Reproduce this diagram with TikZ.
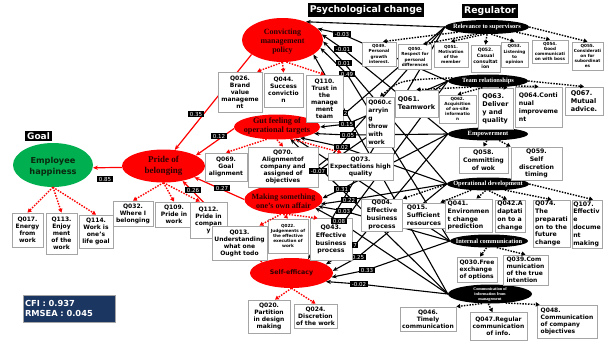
\documentclass[tikz,border=0pt]{standalone}
\usepackage{fontspec}
\setmainfont{DejaVu Sans}
\newfontfamily\serifbf{Liberation Serif}
\usetikzlibrary{arrows.meta,shapes.geometric,calc}
\pgfdeclarelayer{lines}
\pgfdeclarelayer{under}
\pgfdeclarelayer{top}
\pgfsetlayers{lines,under,main,top}
\definecolor{boxgray}{RGB}{165,165,165}
\definecolor{myred}{RGB}{255,0,0}
\definecolor{mygreen}{RGB}{0,176,80}
\definecolor{navyb}{RGB}{28,54,98}
\definecolor{dkred}{RGB}{45,0,0}
\definecolor{dkgreen}{RGB}{10,40,15}
\begin{document}
\begin{tikzpicture}[x=1pt,y=-1pt,
  wh/.style 2 args={minimum width=#1pt,minimum height=#2pt},
  qbox/.style={draw=boxgray,line width=0.8pt,fill=white,align=center,inner sep=0.5pt,font=\fontsize{6}{7}\selectfont\bfseries},
  qleft/.style={qbox,align=left},
  qmid/.style={qbox,font=\fontsize{6.2}{7.8}\selectfont\bfseries},
  qmidl/.style={qmid,align=left},
  qtiny/.style={qbox,font=\fontsize{4.2}{5.2}\selectfont\bfseries},
  psyell/.style={ellipse,fill=myred,inner sep=0pt},
  psytxt/.style={align=center,text=dkred,inner sep=0pt,font=\fontsize{8}{9.3}\selectfont\serifbf\bfseries},
  regell/.style={ellipse,fill=black,inner sep=0pt},
  regtxt/.style={align=center,text=white,inner sep=0pt,font=\fontsize{6.4}{7}\selectfont\serifbf\bfseries},
  coef/.style={fill=black,text=white,inner xsep=2.3pt,inner ysep=1.3pt,font=\fontsize{5.5}{6}\selectfont},
  hdr/.style={fill=black,text=white,inner sep=2pt,font=\fontsize{9.3}{11}\selectfont\bfseries},
  blkarr/.style={black,line width=1.1pt,-{Stealth[length=5pt,width=4.2pt]}},
  redarr/.style={myred,line width=1.2pt,-{Stealth[length=5pt,width=4.2pt]}},
  reddot/.style={myred,line width=1.4pt,dash pattern=on 1.5pt off 1.3pt,-{Triangle[length=3.8pt,width=4.2pt]}},
  blkdot/.style={black,line width=1.4pt,dash pattern=on 1.5pt off 1.3pt,-{Triangle[length=3.8pt,width=4.2pt]}},
]
\useasboundingbox (0,0) rectangle (608,351);

% ---------- headers ----------
\node[hdr] (hpsy) at (366,10) {Psychological change};
\node[hdr] (hreg) at (490,11) {Regulator};
\node[hdr,font=\fontsize{9}{11}\selectfont\bfseries] (hgoal) at (38.5,136) {Goal};

% ---------- psychological ellipses ----------
\node[psyell,fill=mygreen,wh={80}{44}] (happy) at (53,165) {};
\node[align=center,text=dkgreen,inner sep=0pt,font=\fontsize{8.2}{11}\selectfont\bfseries] (happyt) at (53,167) {Employee\\happiness};
\node[psyell,wh={83}{33}] (pride) at (163.5,166) {};
\node[psytxt,font=\fontsize{9}{10.5}\selectfont\serifbf\bfseries] (pridet) at (163.5,166) {Pride of\\belonging};
\node[psyell,wh={81}{44}] (conv) at (282.5,40) {};
\node[psytxt] (convt) at (282.5,41.5) {Convicting\\management\\policy};
\node[psyell,wh={86}{25}] (gut) at (277,127) {};
\node[psytxt,font=\fontsize{8.2}{9.5}\selectfont\serifbf\bfseries] (gutt) at (277,126) {Gut feeling of\\operational targets};
\node[psyell,wh={78}{29}] (making) at (283.5,199.5) {};
\node[psytxt,font=\fontsize{8}{9}\selectfont\serifbf\bfseries] (makingt) at (283.5,201.5) {Making something\\one’s own affair};
\node[psyell,wh={83}{30}] (self) at (291.5,273) {};
\node[align=center,text=dkred,inner sep=0pt,font=\fontsize{6.3}{7}\selectfont\bfseries] (selft) at (291.5,273) {Self-efficacy};

% ---------- regulator ellipses ----------
\node[regell,wh={84}{14}] (rel) at (487,27) {};
\node[regtxt] (relt) at (487,27) {Relevance to supervisors};
\node[regell,wh={80}{13}] (team) at (488,81) {};
\node[regtxt] (teamt) at (488,81) {Team relationships};
\node[regell,wh={80}{13}] (emp) at (488,134) {};
\node[regtxt] (empt) at (488,134) {Empowerment};
\node[regell,wh={82}{13}] (oper) at (488,184) {};
\node[regtxt] (opert) at (488,184) {Operational development};
\node[regell,wh={78}{13}] (intc) at (489,241) {};
\node[regtxt] (intct) at (489,241) {Internal communication};
\node[regell,wh={84}{19}] (comm) at (490,294) {};
\node[regtxt,font=\fontsize{4.2}{5}\selectfont\serifbf\bfseries] (commt) at (490,294) {Communication of\\information from\\management};

% ---------- item boxes ----------
\node[qbox,wh={31}{34}] (q017) at (27.5,230) {Q017.\\Energy\\from\\work};
\node[qbox,wh={31}{41}] (q113) at (61.5,233.5) {Q113.\\Enjoy\\ment\\of the\\work};
\node[qbox,wh={34}{33}] (q114) at (96,231.5) {Q114.\\Work is\\one’s\\life goal};
\node[qbox,wh={40}{25}] (q032) at (133,213.5) {Q032.\\Where I\\belonging};
\node[qbox,wh={38}{25}] (q109) at (174,214.5) {Q109.\\Pride in\\work};
\node[qbox,wh={37}{36}] (q112) at (208.5,220) {Q112.\\Pride in\\compan\\y};
\node[qbox,wh={44}{40}] (q026) at (240,92) {Q026.\\Brand\\value\\manageme\\nt};
\node[qbox,wh={39}{34}] (q044) at (283.5,90) {Q044.\\Success\\convictio\\n};
\node[qbox,wh={37}{47}] (q110) at (324.5,98.5) {Q110.\\Trust in\\the\\manage\\ment\\team};
\node[qbox,wh={42}{28}] (q069) at (226,167) {Q069.\\Goal\\alignment};
\node[qbox,wh={70}{40}] (q070) at (283,167) {Q070.\\Alignmentof\\company and\\assigned of\\objectives};
\node[qbox,wh={65}{27}] (q073) at (360.5,166.5) {Q073.\\Expectations high\\quality};
\node[qbox,wh={55}{34}] (q013) at (239.5,243) {Q013.\\Understanding\\what one\\Ought todo};
\node[qtiny,wh={40}{34}] (q022) at (288,236) {Q022.\\Judgements of\\the effective\\execution of\\work};
\node[qmid,wh={42}{42}] (q043) at (331,239.5) {Q043.\\Effective\\business\\process};
\node[qmid,wh={41}{32}] (q004) at (382,215) {Q004.\\Effective\\business\\process};
\node[qbox,wh={42}{33}] (q020) at (269,316.5) {Q020.\\Partition\\in design\\making};
\node[qbox,wh={43}{24}] (q024) at (315.5,316) {Q024.\\Discretion\\of the work};

\node[qtiny,wh={34}{24}] (q049) at (379,54) {Q049.\\Personal\\growth\\interest.};
\node[qtiny,wh={33}{25}] (q050) at (415,57) {Q050.\\Respect for\\personal\\differences};
\node[qtiny,wh={34}{25}] (q051) at (451,54.5) {Q051.\\Motivation\\of the\\member};
\node[qtiny,wh={29}{27},font=\fontsize{4.6}{5.7}\selectfont\bfseries] (q052) at (485.5,58.5) {Q052.\\Casual\\consultat\\ion};
\node[qtiny,wh={27}{25}] (q053) at (514.5,54.5) {Q053.\\Listening\\to\\opinion};
\node[qtiny,wh={36}{23}] (q054) at (550,51.5) {Q054.\\Good\\communicati\\on with boss};
\node[qtiny,wh={31}{28}] (q055) at (587.5,56) {Q055.\\Considerati\\on for\\subordinat\\es};

\node[qmidl,wh={28}{50},font=\fontsize{6}{8}\selectfont\bfseries] (q060) at (380,122) {Q060.c\\arryin\\g\\throw\\with\\work};
\node[qmidl,wh={43}{27},font=\fontsize{6.5}{8}\selectfont\bfseries] (q061) at (416.5,103.5) {Q061.\\Teamwork};
\node[qtiny,wh={37}{28}] (q062) at (457.5,109) {Q062.\\Acquisition\\of on-site\\informatio\\n};
\node[qmidl,wh={35}{41},font=\fontsize{6.5}{8}\selectfont\bfseries] (q063) at (495.5,108.5) {Q063.\\Deliver\\y and\\quality};
\node[qmidl,wh={47}{40}] (q064) at (538.5,107) {Q064.Conti\\nual\\improveme\\nt};
\node[qmidl,wh={38}{28},font=\fontsize{6.5}{8}\selectfont\bfseries] (q067) at (584,101) {Q067.\\Mutual\\advice.};
\node[qmid,wh={49}{26}] (q058) at (483.5,160) {Q058.\\Committing\\of wok};
\node[qmid,wh={51}{33}] (q059) at (536.5,163.5) {Q059.\\Self\\discretion\\timing};
\node[qmidl,wh={44}{25}] (q015) at (424,215.5) {Q015.\\Sufficient\\resources};
\node[qmidl,wh={47}{33}] (q041) at (468.5,215.5) {Q041.\\Environmen\\t change\\prediction};
\node[qmidl,wh={30}{32}] (q042) at (510,216) {Q042.A\\daptati\\on to a\\change};
\node[qmidl,wh={37}{47}] (q074) at (551.5,223.5) {Q074.\\The\\preparati\\on to the\\future\\change};
\node[qmidl,wh={30}{48}] (q107) at (587,224) {Q107.\\Effectiv\\e\\docume\\nt\\making};
\node[qleft,wh={40}{25}] (q030) at (477,269.5) {Q030.Free\\exchange\\of options};
\node[qleft,wh={45}{30}] (q039) at (525.5,270) {Q039.Com\\munication\\of the true\\intention};
\node[qbox,wh={56}{24}] (q046) at (428,319) {Q046.\\Timely\\communication};
\node[qbox,wh={57}{28}] (q047) at (498.5,326.5) {Q047.Regular\\communication\\of info.};
\node[qleft,wh={60}{33}] (q048) at (567,321.5) {Q048.\\Communication\\of company\\objectives};

% ---------- fit indices ----------
\node[draw=boxgray,line width=0.6pt,fill=navyb,text=white,align=left,text width=88pt,minimum height=27pt,inner sep=2pt,font=\fontsize{8.3}{10.5}\selectfont\bfseries] (fitbox) at (69,308.5) {CFI : 0.937\\RMSEA : 0.045};

% ---------- coefficient labels ----------
\begin{pgfonlayer}{under}
\node[coef] (c4) at (347,74) {0.49};
\node[coef] (c15) at (358,257) {0.25};
\end{pgfonlayer}
\begin{pgfonlayer}{top}
\node[coef,inner xsep=1.2pt] (c5) at (345.5,113) {2};
\node[coef,inner xsep=1.2pt] (c14) at (355,245) {7};
\node[coef] (c1) at (342,34) {-0.03};
\node[coef] (c2) at (343,49) {-0.01};
\node[coef] (c3) at (344,63) {0.01};
\node[coef] (c6) at (347,124) {0.15};
\node[coef] (c7) at (348,135) {0.05};
\node[coef] (c8) at (342,147) {0.02};
\node[coef] (c9) at (318,171) {-0.07};
\node[coef] (c10) at (342,189) {0.31};
\node[coef] (c11) at (349,200) {0.22};
\node[coef] (c12) at (344,211) {0.03};
\node[coef] (c13) at (339,221) {0.08};
\node[coef] (c16) at (367,270) {0.33};
\node[coef] (c17) at (359,284) {-0.02};
\node[coef] (p1) at (196,114) {0.35};
\node[coef] (p2) at (219,136) {0.12};
\node[coef] (p3) at (222,188) {0.27};
\node[coef] (p4) at (193,190) {0.26};
\node[coef] (p5) at (105,179) {0.85};
\end{pgfonlayer}
\coordinate (hidc) at (331,156);

% ---------- structural paths ----------
\begin{pgfonlayer}{lines}
% to Convicting
\draw[blkarr] (rel.west) -- (conv.38);
\draw[blkarr] (team.west) -- (c1.center) -- (conv.18);
\draw[blkarr] (emp.west) -- (c2.center) -- (conv.8);
\draw[blkarr] (oper.west) -- (c3.center) -- (conv.-2);
\draw[blkarr] (intc.west) -- (c4.center) -- (conv.-12);
\draw[blkarr] (comm.west) -- (conv.-25);
% to Gut feeling
\draw[blkarr] (rel.west) -- (c5.center) -- (gut.8);
\draw[blkarr] (team.west) -- (c6.center) -- (gut.0);
\draw[blkarr] (emp.west) -- (c7.center) -- (gut.-10);
\draw[blkarr] (oper.west) -- (c8.center) -- (gut.-25);
\draw[blkarr] (intc.west) -- (gut.-32);
\draw[blkarr] (comm.west) -- (gut.-42);
% to Making something
\draw[blkarr] (rel.west) -- (hidc) -- (making.55);
\draw[blkarr] (team.west) -- (c9.center) -- (making.42);
\draw[blkarr] (emp.west) -- (c10.center) -- (making.2);
\draw[blkarr] (oper.west) -- (c11.center) -- (making.-7);
\draw[blkarr] (intc.west) -- (c12.center) -- (making.-11);
\draw[blkarr] (comm.west) -- (c13.center) -- (making.-15);
% to Self-efficacy
\draw[blkarr] (rel.west) -- (self.40);
\draw[blkarr] (team.west) -- (self.28);
\draw[blkarr] (emp.west) -- (c14.center) -- (self.14);
\draw[blkarr] (oper.west) -- (c15.center) -- (self.3);
\draw[blkarr] (intc.west) -- (c16.center) -- (self.-6);
\draw[blkarr] (comm.west) -- (c17.center) -- (self.-14);
% red structural paths
\draw[redarr] (conv.205) -- (pride.55);
\draw[redarr] (gut.182) -- (pride.18);
\draw[redarr] (making.180) -- (pride.-20);
\draw[redarr] (self.160) -- (pride.-38);
\draw[redarr] (pride.182) -- (happy.-4);
\end{pgfonlayer}

% ---------- measurement arrows ----------
\begin{pgfonlayer}{top}
\draw[reddot] (happy.south) -- (q017.north);
\draw[reddot] (happy.south) -- (q113.north);
\draw[reddot] (happy.south) -- (q114.north);
\draw[reddot] (pride.south) -- (q032.north);
\draw[reddot] (pride.south) -- (q109.north);
\draw[reddot] (pride.south) -- (q112.115);
\draw[reddot] (conv.south) -- (q026.50);
\draw[reddot] (conv.south) -- (q044.north);
\draw[reddot] (conv.-80) -- (q110.north);
\draw[reddot] (gut.230) -- (q069.north);
\draw[reddot] (gut.south) -- (q070.north);
\draw[reddot] (gut.-40) -- ($(q073.north west)+(14,0)$);
\draw[reddot] (making.-100) -- ($(q013.north east)+(-8,0)$);
\draw[reddot] (making.-90) -- (q022.north);
\draw[reddot] (making.-80) -- ($(q043.north west)+(8,0)$);
\draw[reddot] (self.south) -- ($(q020.north)+(6,0)$);
\draw[reddot] (self.south) -- (q024.north);

\draw[blkdot] (rel.190) -- ($(q049.north)+(4,0)$);
\draw[blkdot] (rel.215) -- ($(q050.north)+(8,0)$);
\draw[blkdot] (rel.250) -- (q051.north);
\draw[blkdot] (rel.south) -- (q052.north);
\draw[blkdot] (rel.-60) -- (q053.north);
\draw[blkdot] (rel.-10) -- (q054.north);
\draw[blkdot] (rel.east) -- (q055.north);

\draw[blkdot] (team.175) .. controls (400,80) .. (q060.north);
\draw[blkdot] (team.200) -- (q061.north);
\draw[blkdot] (team.230) -- (q062.north);
\draw[blkdot] (team.-30) -- ($(q063.north east)+(-6,0)$);
\draw[blkdot] (team.-10) -- (q064.north);
\draw[blkdot] (team.east) -- (q067.north);

\draw[blkdot] (emp.-100) -- (q058.north);
\draw[blkdot] (emp.-30) -- (q059.north west);

\draw[blkdot] (oper.west) -- (q004.north east);
\draw[blkdot] (oper.200) -- ($(q015.north east)+(-6,0)$);
\draw[blkdot] (oper.250) -- ($(q041.north)+(8,0)$);
\draw[blkdot] (oper.-80) -- ($(q042.north)+(-3,0)$);
\draw[blkdot] (oper.-20) -- (q074.north);
\draw[blkdot] (oper.east) -- ($(q107.north)+(6,0)$);

\draw[blkdot] (intc.-110) -- ($(q030.north)+(3,0)$);
\draw[blkdot] (intc.-40) -- (q039.north);

\draw[blkdot] (comm.230) -- (q046.north east);
\draw[blkdot] (comm.-100) -- ($(q047.north)+(-6,0)$);
\draw[blkdot] (comm.-30) -- ($(q048.north west)+(3,0)$);
\end{pgfonlayer}
\end{tikzpicture}
\end{document}
